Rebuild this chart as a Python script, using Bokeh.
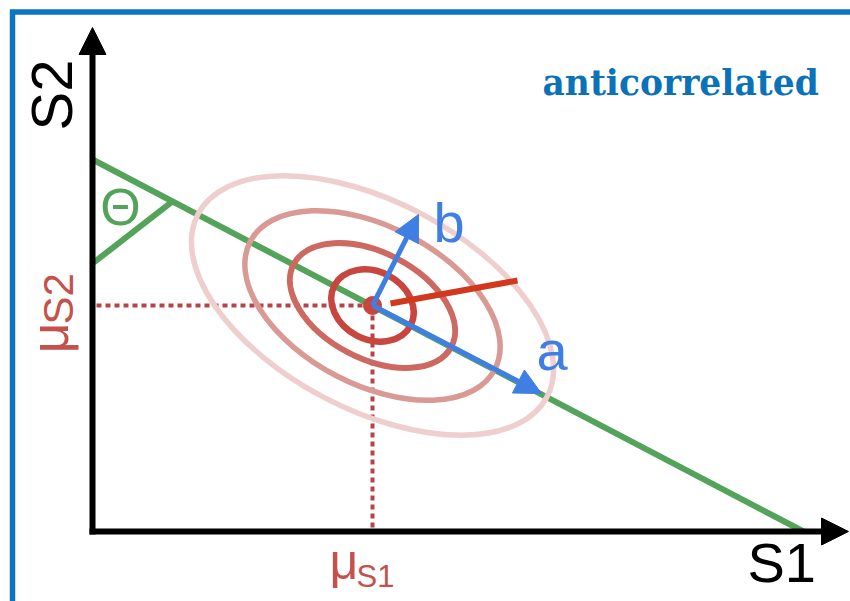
import math
from bokeh.plotting import figure
from bokeh.models import Range1d, Arrow, NormalHead
from bokeh.core.properties import value
from bokeh.embed import file_html
from bokeh.resources import INLINE

# ---------------- diagram data (origin at the axis corner, 1 unit = 1 px, S2 up) ----------------
s1_axis_end = 756          # tip of S1 axis arrow
s2_axis_end = 504          # tip of S2 axis arrow
mu_s1 = 280                # mean of S1
mu_s2 = 226                # mean of S2
green_s2_intercept = 372   # green principal line meets S2 axis
green_s1_intercept = 711   # green principal line meets S1 axis
theta_foot_s2 = 268        # angle-marker line meets S2 axis
theta_foot_s1 = 80         # angle-marker line meets green line (S1 coordinate)
ellipse_semi_major = [197, 138, 89, 43]     # outer -> inner
ellipse_semi_minor = [104, 79, 53, 34]
ellipse_colors = ["#eecfcd", "#d99a95", "#cd6961", "#c8463d"]
ellipse_widths = [5.5, 5.5, 6, 6.5]
vec_a_end = [449, 138]     # tip of eigenvector a
vec_b_end = [326, 317]     # tip of eigenvector b
red_seg_s1 = [298, 425]
red_seg_s2 = [228, 251]

BLUE_FRAME = "#0b76bf"
GREEN = "#53a35a"
RED_TXT = "#c4524c"
BLUE_VEC = "#3f7fe4"
BASE = 0.36   # baseline correction, as a fraction of the font size

p = figure(width=850, height=601, output_backend="svg", toolbar_location=None,
           x_range=Range1d(-92, 758), y_range=Range1d(-70, 531),
           x_axis_location=None, y_axis_location=None, min_border=0,
           background_fill_color="white", border_fill_color="white")
p.outline_line_color = None
p.grid.visible = False

# frame (top and left borders)
p.line(x=[-80, -80, 770], y=[-80, 519.5, 519.5], line_color=BLUE_FRAME,
       line_width=5.5, line_join="miter")

# dotted guides to the means
p.line(x=[4, mu_s1], y=[mu_s2, mu_s2], line_color="#b5434b", line_width=4, line_dash="5 4")
p.line(x=[mu_s1, mu_s1], y=[4, mu_s2], line_color="#b5434b", line_width=4, line_dash="5 4")

# green principal line and angle marker
p.line(x=[0, green_s1_intercept], y=[green_s2_intercept, 0], line_color=GREEN, line_width=6)
slope = -green_s2_intercept / green_s1_intercept
p.line(x=[0, theta_foot_s1], y=[theta_foot_s2, green_s2_intercept + slope * theta_foot_s1],
       line_color=GREEN, line_width=6)
p.text(x=[28], y=[325], text=["Θ"], text_font=value("Liberation Sans"),
       text_font_size=value("52px"), text_color=GREEN, text_align="center",
       text_baseline="middle")

# ellipses
ang = math.atan2(-green_s2_intercept, green_s1_intercept)
p.ellipse(x=[mu_s1] * 4, y=[mu_s2] * 4,
          width=[2 * a for a in ellipse_semi_major], height=[2 * b for b in ellipse_semi_minor],
          angle=ang, fill_color=None, line_color=ellipse_colors, line_width=ellipse_widths)

# mean dot and red line
p.scatter(x=[mu_s1], y=[mu_s2], size=18, marker="circle", fill_color="#c8453c", line_color="#c8453c")
p.line(x=red_seg_s1, y=red_seg_s2, line_color="#d1391f", line_width=6)

# eigenvectors
for tip in (vec_a_end, vec_b_end):
    p.add_layout(Arrow(end=NormalHead(size=26, fill_color=BLUE_VEC, line_color=BLUE_VEC, line_width=1),
                       x_start=mu_s1, y_start=mu_s2, x_end=tip[0], y_end=tip[1],
                       line_color=BLUE_VEC, line_width=5))

# axes with arrows
p.add_layout(Arrow(end=NormalHead(size=27, fill_color="black", line_color="black", line_width=1),
                   x_start=0, y_start=-3, x_end=0, y_end=s2_axis_end,
                   line_color="black", line_width=6))
p.add_layout(Arrow(end=NormalHead(size=27, fill_color="black", line_color="black", line_width=1),
                   x_start=-3, y_start=0, x_end=s1_axis_end, y_end=0,
                   line_color="black", line_width=6))


def htext(x, y, s, size, color, font="Liberation Sans", style="normal"):
    p.text(x=[x], y=[y + BASE * size], text=[s], text_font=value(font),
           text_font_style=style, text_font_size=value(f"{size}px"), text_color=color,
           text_align="left", text_baseline="alphabetic")


def vtext(x, y, s, size, color):
    p.text(x=[x - BASE * size], y=[y], text=[s], angle=math.pi / 2,
           text_font=value("Liberation Sans"), text_font_size=value(f"{size}px"),
           text_color=color, text_align="left", text_baseline="alphabetic")


# axis labels and vector labels
vtext(-20, 401, "S2", 58, "black")
htext(655, -51, "S1", 56, "black")
htext(341, 289, "b", 56, BLUE_VEC)
htext(444, 161, "a", 56, BLUE_VEC)

# mu labels
htext(237, -48, "μ", 50, RED_TXT)
htext(264, -56, "S1", 31, RED_TXT)
vtext(-24, 178, "μ", 54, RED_TXT)
vtext(-19, 207, "S2", 42, RED_TXT)

# title word
htext(450, 436, "anticorrelated", 34.5, "#0b72b8", font="DejaVu Serif", style="bold")

open("out.html", "w").write(file_html(p, INLINE))
